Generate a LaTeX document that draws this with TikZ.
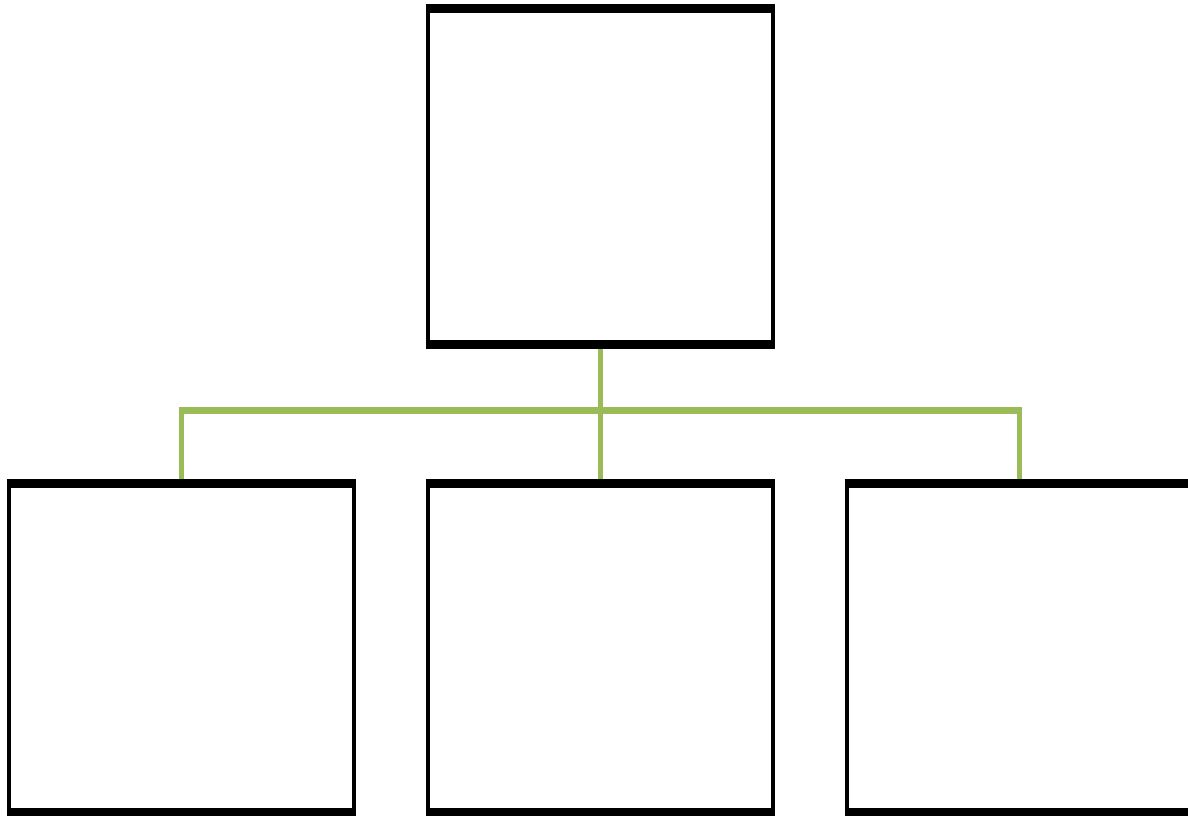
\documentclass[tikz,border=0pt]{standalone}
\usepackage{xcolor}
\usepackage{tikz}
\usetikzlibrary{positioning, calc}
\definecolor{olivegreen}{HTML}{9BBB59}

\begin{document}
\begin{tikzpicture}[
    x=1pt, y=1pt,
    orgbox/.style={rectangle, draw=black, line width=4pt, fill=white, minimum width=345pt, outer sep=0pt, inner sep=0pt},
    rim/.style={black, line width=9pt},
    link/.style={draw=olivegreen, line width=5pt},
]
\useasboundingbox (0,0) rectangle (1188,-816);

\node[orgbox, minimum height=335pt] (head) at (600,-176.5) {};
\node[orgbox, minimum height=329pt, below=139pt of head] (unitm) {};
\node[orgbox, minimum height=329pt, left=74pt of unitm] (unitl) {};
\node[orgbox, minimum height=329pt, right=74pt of unitm] (unitr) {};

% connectors
\coordinate (bar) at ($(head.south)!0.48!(unitm.north)$);
\draw[link] (head.south) -- (unitm.north);
\draw[link] (unitl.north) -- ([yshift=3.5pt]unitl.north |- bar);
\draw[link] (unitr.north) -- ([yshift=3.5pt]unitr.north |- bar);
\draw[link, line width=7pt] ([xshift=-2.5pt]unitl.north |- bar) -- ([xshift=2.5pt]unitr.north |- bar);

% heavy top and bottom edges
\foreach \b in {head, unitl, unitm, unitr} {
  \draw[rim] ([xshift=-2pt]\b.north west) -- ([xshift=2pt]\b.north east);
  \draw[rim] ([xshift=-2pt]\b.south west) -- ([xshift=2pt]\b.south east);
}

\end{tikzpicture}
\end{document}
